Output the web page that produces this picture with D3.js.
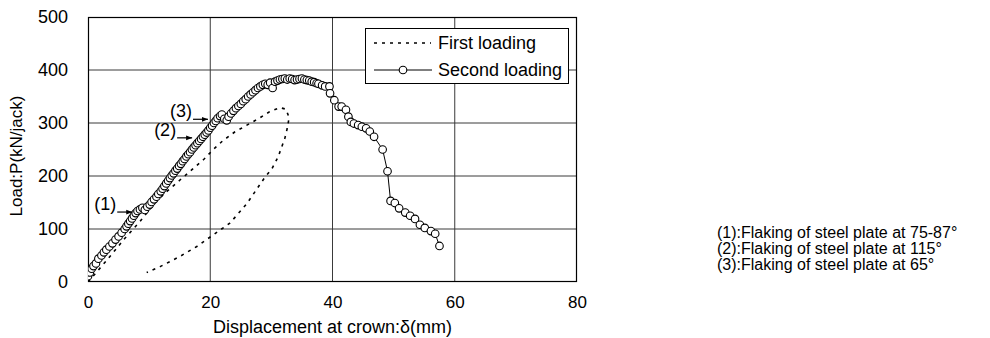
<!DOCTYPE html>
<html>
<head>
<meta charset="utf-8">
<script src="https://cdn.jsdelivr.net/npm/d3@7"></script>
<style>
  body { margin: 0; background: #fff; }
  text { font-family: "Liberation Sans", Arial, Helvetica, sans-serif; fill: #000; }
</style>
</head>
<body>
<svg id="chart" width="990" height="338"></svg>
<script>
// tick values
const xTicks = [0, 20, 40, 60, 80];
const yTicks = [0, 100, 200, 300, 400, 500];

// first loading (dotted loop), displacement mm / load kN
const firstX = [0, 3, 6, 8.5, 11, 13, 15, 17, 19, 20.5, 22, 24, 26, 28, 29.8, 31.4, 32.4, 32.9, 32.6, 32.2, 31.1, 30.1, 28.9, 27.6, 26, 24.5, 23.2, 20.5, 17.8, 15, 11.8, 9.6];
const firstY = [0, 40, 82, 114, 150, 172, 192, 212, 232, 250, 266, 283, 296, 309, 322, 329, 326, 310, 290, 271, 236, 214, 197, 175, 148, 128, 111, 89, 67, 48, 29, 18];

// second loading (circles)
const secondX = [0.0, 0.3, 0.6, 0.9, 1.3, 1.7, 2.2, 2.6, 3.0, 3.5, 4.0, 4.5, 5.0, 5.5, 6.0, 6.3, 6.6, 6.9, 7.2, 7.5,
  7.8, 8.1, 8.5, 8.9, 9.3, 9.7, 10.1, 10.4, 10.8, 11.2, 11.5, 11.9, 12.2, 12.5, 12.8, 13.1, 13.4, 13.7, 14.0, 14.3,
  14.6, 14.9, 15.2, 15.5, 15.8, 16.1, 16.4, 16.7, 17.0, 17.3, 17.6, 17.9, 18.2, 18.5, 18.8, 19.1, 19.4, 19.7, 20.0, 20.3,
  20.6, 20.9, 21.2, 21.6, 21.9, 22.3, 22.7, 23.0, 23.4, 23.8, 24.2, 24.6, 25.0, 25.4, 25.8, 26.2, 26.6, 27.0, 27.4, 27.8,
  28.2, 28.6, 29.0, 29.4, 29.8, 30.2, 30.6, 31.0, 31.4, 31.8, 32.2, 32.6, 33.0, 33.4, 33.8, 34.2, 34.6, 35.0, 35.4, 35.8,
  36.2, 36.6, 37.0, 37.4, 37.7, 38.3, 38.8, 39.5, 39.6, 40.3, 41.0, 41.5, 42.2, 42.6, 43.0, 43.5, 44.2, 44.8, 45.5, 46.1,
  46.8, 48.2, 49.0, 49.5, 50.2, 50.9, 51.9, 52.7, 53.5, 54.3, 55.1, 56.1, 56.8, 57.5];
const secondY = [11, 18, 25, 30, 35, 44, 50, 56, 61, 67, 73, 80, 86, 93, 100, 105, 110, 115, 120, 125,
  130, 134, 137, 140, 136, 142, 146, 151, 156, 161, 166, 171, 176, 181, 186, 191, 196, 201, 205, 210,
  214, 219, 223, 228, 232, 237, 241, 245, 250, 254, 258, 262, 266, 270, 274, 278, 282, 286, 291, 295,
  300, 304, 309, 313, 316, 308, 305, 312, 318, 323, 328, 332, 336, 341, 345, 350, 354, 358, 362, 366,
  369, 372, 374, 372, 376, 366, 378, 380, 382, 383, 384, 382, 384, 383, 381, 382, 383, 384, 382, 381,
  380, 378, 377, 375, 374, 371, 369, 369, 356, 343, 331, 331, 325, 312, 302, 299, 296, 293, 290, 284,
  274, 250, 209, 153, 149, 139, 131, 125, 119, 108, 102, 96, 91, 68];

// arrow annotations: label, tip position (mm, kN)
const markLabels = ['(1)', '(2)', '(3)'];
const markX = [7.4, 17.2, 19.8];
const markY = [132, 272, 307];

const seriesNames = ['First loading', 'Second loading'];
const noteLines = ['(1):Flaking of steel plate at 75-87°', '(2):Flaking of steel plate at 115°', '(3):Flaking of steel plate at 65°'];

const margin = { left: 88, top: 17, right: 413, bottom: 56 };
const W = 990, H = 338;
const iw = W - margin.left - margin.right;
const ih = H - margin.top - margin.bottom;

const svg = d3.select('#chart');
svg.append('rect').attr('width', W).attr('height', H).attr('fill', '#fff');

const x = d3.scaleLinear().domain([0, 80]).range([margin.left, margin.left + iw]);
const y = d3.scaleLinear().domain([0, 500]).range([margin.top + ih, margin.top]);

const defs = svg.append('defs');
defs.append('clipPath').attr('id', 'clip')
  .append('rect').attr('x', margin.left).attr('y', margin.top).attr('width', iw).attr('height', ih);
defs.append('marker')
  .attr('id', 'arrow')
  .attr('viewBox', '0 0 10 10')
  .attr('refX', 10).attr('refY', 5)
  .attr('markerWidth', 6).attr('markerHeight', 6)
  .attr('markerUnits', 'userSpaceOnUse')
  .attr('orient', 'auto')
  .append('path').attr('d', 'M0,1L10,5L0,9Z').attr('fill', '#000');

// grid
const grid = svg.append('g').attr('class', 'grid');
grid.selectAll('line.v')
  .data(xTicks.slice(1, -1))
  .join('line')
  .attr('class', 'v')
  .attr('x1', d => x(d)).attr('x2', d => x(d))
  .attr('y1', margin.top).attr('y2', margin.top + ih)
  .attr('stroke', '#3a3a3a').attr('stroke-width', 1);
grid.selectAll('line.h')
  .data(yTicks.slice(1, -1))
  .join('line')
  .attr('class', 'h')
  .attr('x1', margin.left).attr('x2', margin.left + iw)
  .attr('y1', d => y(d)).attr('y2', d => y(d))
  .attr('stroke', '#3a3a3a').attr('stroke-width', 1);

// axes (labels only, frame drawn separately)
const xAxis = d3.axisBottom(x).tickValues(xTicks).tickSize(0).tickPadding(14);
const yAxis = d3.axisLeft(y).tickValues(yTicks).tickSize(0).tickPadding(20);
svg.append('g')
  .attr('transform', `translate(0,${margin.top + ih})`)
  .call(xAxis)
  .call(g => g.select('.domain').remove())
  .selectAll('text').attr('font-size', 17).attr('fill', '#000');
svg.append('g')
  .attr('transform', `translate(${margin.left},0)`)
  .call(yAxis)
  .call(g => g.select('.domain').remove())
  .selectAll('text').attr('font-size', 18).attr('fill', '#000');

svg.append('rect')
  .attr('x', margin.left + 0.5).attr('y', margin.top + 0.5)
  .attr('width', iw - 1).attr('height', ih - 1)
  .attr('fill', 'none').attr('stroke', '#000').attr('stroke-width', 1.2);

// axis titles
svg.append('text')
  .attr('x', margin.left + iw / 2).attr('y', 333)
  .attr('text-anchor', 'middle').attr('font-size', 18)
  .text('Displacement at crown:δ(mm)');
svg.append('text')
  .attr('transform', `translate(22,156) rotate(-90)`)
  .attr('text-anchor', 'middle').attr('font-size', 17)
  .text('Load:P(kN/jack)');

const plot = svg.append('g').attr('clip-path', 'url(#clip)');

// first loading
const I1 = d3.range(firstX.length);
const line1 = d3.line().x(i => x(firstX[i])).y(i => y(firstY[i]));
plot.append('path')
  .attr('fill', 'none')
  .attr('stroke', '#000')
  .attr('stroke-width', 1.6)
  .attr('stroke-dasharray', '3,5')
  .attr('d', line1(I1));

// second loading
const I2 = d3.range(secondX.length);
const line2 = d3.line().x(i => x(secondX[i])).y(i => y(secondY[i]));
plot.append('path')
  .attr('fill', 'none')
  .attr('stroke', '#000')
  .attr('stroke-width', 1)
  .attr('d', line2(I2));
plot.selectAll('circle.pt')
  .data(I2)
  .join('circle')
  .attr('class', 'pt')
  .attr('cx', i => x(secondX[i]))
  .attr('cy', i => y(secondY[i]))
  .attr('r', 3.8)
  .attr('fill', '#fff')
  .attr('stroke', '#000')
  .attr('stroke-width', 1.1);

// arrow annotations
const marks = svg.append('g').attr('class', 'marks');
markLabels.forEach((lab, i) => {
  const tx = x(markX[i]), ty = y(markY[i]);
  marks.append('line')
    .attr('x1', tx - 16).attr('x2', tx - 1)
    .attr('y1', ty).attr('y2', ty)
    .attr('stroke', '#000').attr('stroke-width', 1.2)
    .attr('marker-end', 'url(#arrow)');
  marks.append('text')
    .attr('x', tx - 17).attr('y', ty - 2)
    .attr('text-anchor', 'end').attr('font-size', 18)
    .text(lab);
});

// legend
const lg = svg.append('g').attr('class', 'legend');
lg.append('rect')
  .attr('x', 365.5).attr('y', 28.5).attr('width', 203).attr('height', 55)
  .attr('fill', '#fff').attr('stroke', '#000').attr('stroke-width', 1);
lg.append('line')
  .attr('x1', 374).attr('x2', 431).attr('y1', 43).attr('y2', 43)
  .attr('stroke', '#000').attr('stroke-width', 1.6).attr('stroke-dasharray', '3,5');
lg.append('line')
  .attr('x1', 374).attr('x2', 432).attr('y1', 70).attr('y2', 70)
  .attr('stroke', '#000').attr('stroke-width', 1);
lg.append('circle')
  .attr('cx', 403).attr('cy', 70).attr('r', 3.8)
  .attr('fill', '#fff').attr('stroke', '#000').attr('stroke-width', 1.1);
lg.selectAll('text')
  .data(seriesNames)
  .join('text')
  .attr('x', 438).attr('y', (d, i) => 49 + i * 27)
  .attr('font-size', 18)
  .text(d => d);

// notes on the right
svg.append('g').selectAll('text')
  .data(noteLines)
  .join('text')
  .attr('x', 717).attr('y', (d, i) => 238 + i * 16)
  .attr('font-size', 16)
  .text(d => d);
</script>
</body>
</html>
